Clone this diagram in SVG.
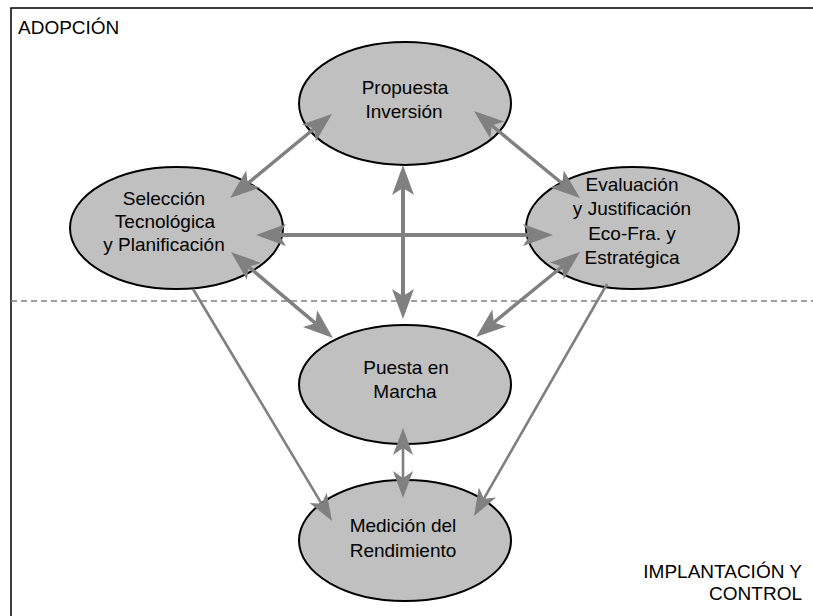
<svg xmlns="http://www.w3.org/2000/svg" width="813" height="616" viewBox="0 0 813 616">
<style>
.node ellipse{fill:#c0c0c0;stroke:#000;stroke-width:2}
text{font-family:"Liberation Sans",Arial,sans-serif;font-size:19px;fill:#000}
.node text{text-anchor:middle}
.c{stroke:#808080;fill:none}
.w{stroke-width:4}
.m{stroke-width:3.5}
.t{stroke-width:2.6}
</style>
<defs>
<marker id="ah" markerUnits="userSpaceOnUse" viewBox="-16 -12 32 24" markerWidth="32" markerHeight="24" refX="0" refY="0" orient="auto-start-reverse">
<path d="M15,0 L-15,-11 L-8,0 L-15,11 Z" fill="#808080"/>
</marker>
<marker id="ahs" markerUnits="userSpaceOnUse" viewBox="-14 -11 28 22" markerWidth="28" markerHeight="22" refX="0" refY="0" orient="auto-start-reverse">
<path d="M13,0 L-14,-10 L-7,0 L-14,10 Z" fill="#808080"/>
</marker>
</defs>
<path d="M11,616 V8 H813" fill="none" stroke="#000" stroke-width="1.5"/>
<line x1="11" y1="301" x2="813" y2="301" stroke="#808080" stroke-width="1.5" stroke-dasharray="6 4"/>
<text x="18" y="34">ADOPCIÓN</text>
<text x="802" y="578" text-anchor="end">IMPLANTACIÓN Y</text>
<text x="802" y="600" text-anchor="end">CONTROL</text>
<g id="propuesta" class="node">
<ellipse cx="405" cy="103.5" rx="106" ry="61.5"/>
<text x="405" y="94">Propuesta</text>
<text x="404" y="117.5">Inversión</text>
</g>
<g id="seleccion" class="node">
<ellipse cx="176.5" cy="228" rx="106.5" ry="61"/>
<text x="164" y="205">Selección</text>
<text x="165" y="228">Tecnológica</text>
<text x="164" y="250.5">y Planificación</text>
</g>
<g id="evaluacion" class="node">
<ellipse cx="632.5" cy="228" rx="106.5" ry="61"/>
<text x="632" y="190.5">Evaluación</text>
<text x="632" y="215">y Justificación</text>
<text x="632" y="239.5">Eco-Fra. y</text>
<text x="632" y="263.5">Estratégica</text>
</g>
<g id="puesta" class="node">
<ellipse cx="405" cy="384.5" rx="106" ry="59.5"/>
<text x="406" y="374">Puesta en</text>
<text x="405" y="398">Marcha</text>
</g>
<g id="medicion" class="node">
<ellipse cx="405" cy="540.5" rx="106" ry="60.5"/>
<text x="403" y="531.5">Medición del</text>
<text x="403" y="556.5">Rendimiento</text>
</g>
<g id="connectors">
<line class="c m" x1="241.6" y1="188.5" x2="320.4" y2="123.5" marker-start="url(#ah)" marker-end="url(#ah)"/>
<line class="c m" x1="485.6" y1="120.5" x2="568.4" y2="188.5" marker-start="url(#ah)" marker-end="url(#ah)"/>
<line class="c w" x1="271" y1="235" x2="538" y2="235" marker-start="url(#ah)" marker-end="url(#ah)"/>
<line class="c w" x1="403" y1="180" x2="403" y2="304" marker-start="url(#ah)" marker-end="url(#ah)"/>
<line class="c m" x1="242.5" y1="261.7" x2="321.5" y2="328.3" marker-start="url(#ah)" marker-end="url(#ah)"/>
<line class="c m" x1="568.4" y1="261.5" x2="487.6" y2="327.5" marker-start="url(#ah)" marker-end="url(#ah)"/>
<line class="c t" x1="193" y1="289" x2="325.3" y2="509.8" marker-end="url(#ahs)"/>
<line class="c t" x1="607" y1="284" x2="480.5" y2="504.7" marker-end="url(#ahs)"/>
<line class="c t" x1="403" y1="441" x2="403" y2="485" marker-start="url(#ahs)" marker-end="url(#ahs)"/>
</g>
</svg>
